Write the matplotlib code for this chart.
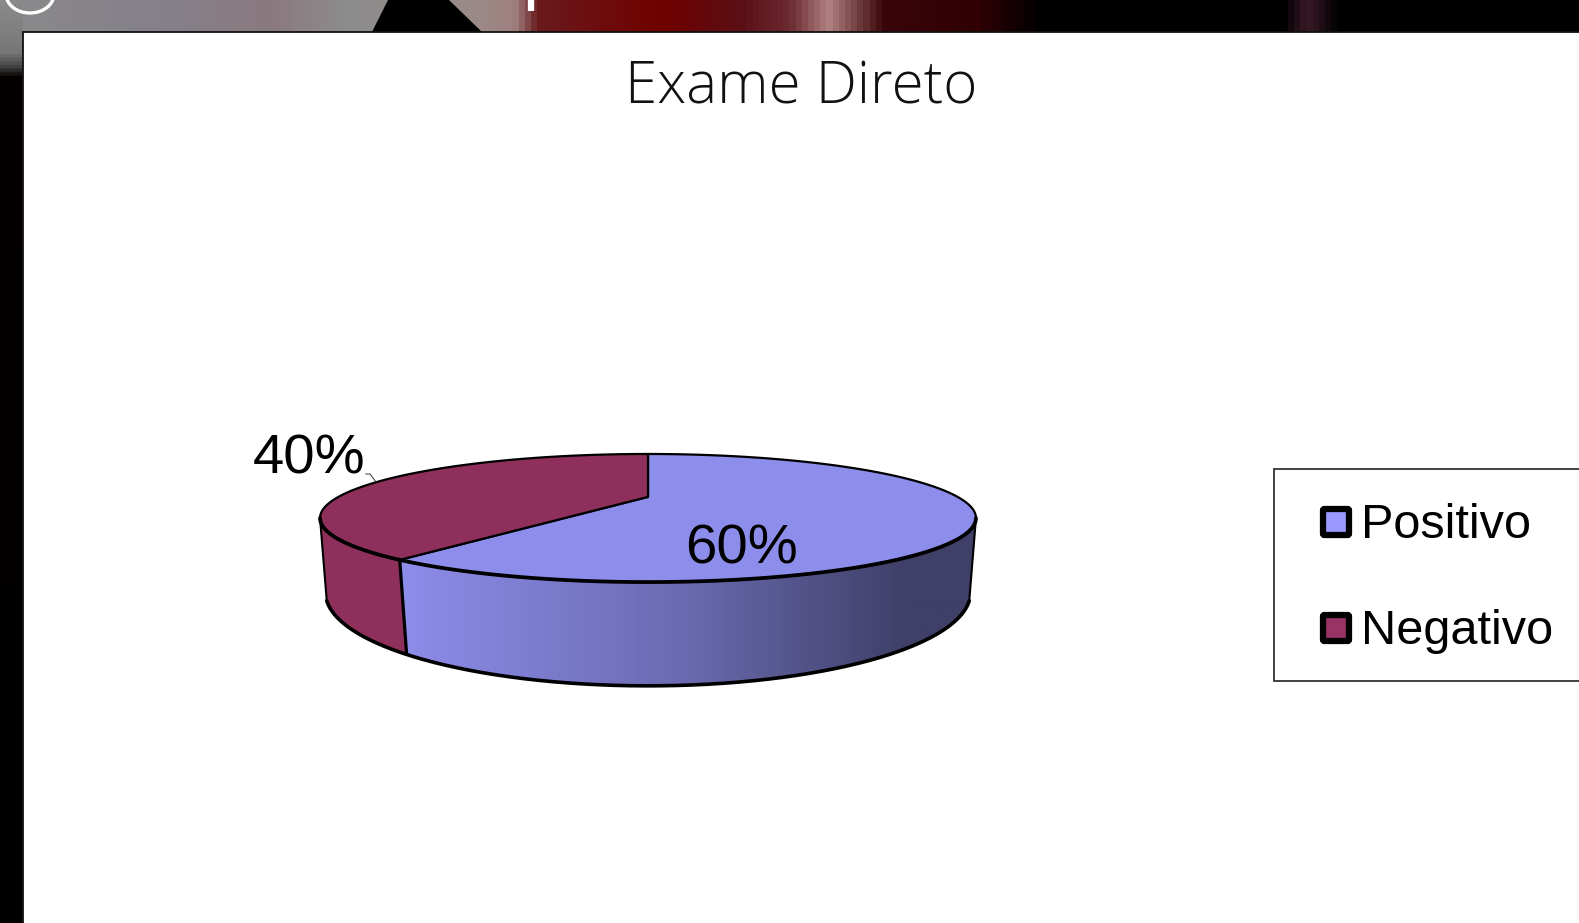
import numpy as np
import matplotlib
matplotlib.use('Agg')
import matplotlib.pyplot as plt
from matplotlib.colors import LinearSegmentedColormap
from matplotlib.patches import Polygon, Rectangle, FancyBboxPatch

categories = ['Positivo', 'Negativo']
values = [60, 40]
pct_labels = ['60%', '40%']
title = 'Exame Direto'

top_colors = ['#8d8deb', '#8f2f5c']
key_colors = ['#9999ff', '#993366']

# perspective of the disc, in picture pixels: A, B, C, half width term
TOP = (106.9, 496.9, 0.33, 309.6)
BOTTOM = (93.7, 563.5, 0.315, 306.0)
CX = 648.0
# where the walls stop, as an angle past the side of the disc
TOP_END = 0.336
BOTTOM_END = 0.40

W, H = 1579, 923
fig = plt.figure(figsize=(W / 100, H / 100), dpi=100)
ax = fig.add_axes([0, 0, 1, 1])
ax.set_xlim(0, W)
ax.set_ylim(H, 0)
ax.axis('off')


def project(angle, disc):
    # angle is measured clockwise from the back of the pie
    A, B, C, k = disc
    u, v = np.sin(angle), np.cos(angle)
    d = 1 + C * v
    return CX + k * u / d, (A * v + B) / d


def path(a0, a1, disc):
    t = np.linspace(a0, a1, 200)
    x, y = project(t, disc)
    return np.column_stack([x, y])


# photo strip behind the slide
strip = LinearSegmentedColormap.from_list('strip', [
    (0.00, '#8a8a8a'), (0.10, '#85808a'), (0.17, '#8a7a80'), (0.22, '#8d8d8d'),
    (0.30, '#9a8a88'), (0.325, '#a08080'), (0.34, '#6a1a1c'),
    (0.42, '#700000'), (0.47, '#5a1015'), (0.50, '#6a2a30'), (0.525, '#b08080'),
    (0.56, '#3a0508'), (0.62, '#300005'), (0.66, '#000000'), (0.815, '#000000'),
    (0.83, '#3a1a28'), (0.85, '#000000'), (1.00, '#000000')])
ax.imshow(np.linspace(0, 1, 512)[None, :], cmap=strip, extent=[0, W, 32, 0], aspect='auto',
          interpolation='bilinear', zorder=0)
ax.add_patch(Polygon([(388, 0), (449, 0), (482, 32), (372, 32)], closed=True, fc='black', ec='none', zorder=0.2))
side = LinearSegmentedColormap.from_list('side', [
    (0.00, '#8a8a8a'), (0.055, '#777777'), (0.07, '#444444'), (0.082, '#050000'), (1.00, '#000000')])
ax.imshow(np.linspace(0, 1, 512)[:, None], cmap=side, extent=[0, 23, H, 0], aspect='auto', zorder=0.5)
ax.set_xlim(0, W)
ax.set_ylim(H, 0)

# pieces of the slide heading cut off by the panel
t = np.linspace(0, np.pi, 60)
ax.plot(30 + 24 * np.cos(t), -6 + 19 * np.sin(t), color='white', lw=2.4, zorder=1)
ax.plot([531, 531], [0, 11], color='white', lw=4.5, solid_capstyle='butt', zorder=1)

ax.add_patch(Rectangle((22.5, 32), W, H, fc='white', ec='#111111', lw=1.3, zorder=1))

fracs = np.array(values) / sum(values)
edges = np.concatenate([[0], np.cumsum(fracs)]) * 2 * np.pi

# walls of the two slices
wall = Polygon(path(np.pi / 2 + TOP_END, edges[1], TOP).tolist()
               + path(np.pi / 2 + BOTTOM_END, edges[1], BOTTOM)[::-1].tolist(),
               closed=True, fc='none', ec='none', zorder=2)
ax.add_patch(wall)
grad = LinearSegmentedColormap.from_list('wall', [
    (0.00, '#8d8deb'), (0.50, '#6a6ab0'), (0.88, '#3f3f68'), (1.00, '#3f3f68')])
im = ax.imshow(np.linspace(0, 1, 512)[None, :], cmap=grad, extent=[400, 975, 700, 500], aspect='auto', zorder=2)
im.set_clip_path(wall)
ax.set_xlim(0, W)
ax.set_ylim(H, 0)

wall2 = np.vstack([path(edges[1], 1.5 * np.pi - TOP_END, TOP),
                   path(edges[1], 1.5 * np.pi - BOTTOM_END, BOTTOM)[::-1]])
ax.add_patch(Polygon(wall2, closed=True, fc=top_colors[1], ec='none', zorder=2))

# outline of the walls
ax.plot(*path(np.pi / 2 + BOTTOM_END, 1.5 * np.pi - BOTTOM_END, BOTTOM).T, color='black', lw=2.6,
        solid_capstyle='round', zorder=3)
for a_top, a_bot, lw in [(np.pi / 2 + TOP_END, np.pi / 2 + BOTTOM_END, 1.5),
                         (1.5 * np.pi - TOP_END, 1.5 * np.pi - BOTTOM_END, 1.5),
                         (edges[1], edges[1], 2.3)]:
    p0, p1 = project(a_top, TOP), project(a_bot, BOTTOM)
    ax.plot([p0[0], p1[0]], [p0[1], p1[1]], color='black', lw=lw, solid_capstyle='round', zorder=3)

# top of the pie
apex = (CX, TOP[1])
for i in range(len(values)):
    pts = np.vstack([[apex], path(edges[i], edges[i + 1], TOP)])
    ax.add_patch(Polygon(pts, closed=True, fc=top_colors[i], ec='black', lw=1.6, joinstyle='round', zorder=4))
# near lip of the top is drawn heavier
ax.plot(*path(np.pi / 2 + TOP_END, 1.5 * np.pi - TOP_END, TOP).T, color='black', lw=2.7,
        solid_capstyle='round', zorder=4.5)

# data labels
ax.text(741, 550, pct_labels[0], family='Liberation Sans', fontsize=40.5, ha='center', va='center', zorder=5)
ax.text(309, 459, pct_labels[1], family='Liberation Sans', fontsize=40.5, ha='center', va='center', zorder=5)
ax.plot([366, 370, 376], [474, 474, 482], color='#333333', lw=0.7, zorder=5)

ax.text(801, 104, title, family='Open Sans', fontweight='light', fontsize=42, ha='center', va='baseline',
        color='#111111', zorder=5)

# legend
ax.add_patch(Rectangle((1274, 468.5), W, 212, fc='white', ec='#222222', lw=1.2, zorder=4))
key_y = [522, 628]
text_y = [525, 631]
for i, name in enumerate(categories):
    ax.add_patch(FancyBboxPatch((1323, key_y[i] - 13), 26, 26, boxstyle='round,pad=0,rounding_size=1.5',
                                fc=key_colors[i], ec='black', lw=4.5, zorder=5))
    ax.text(1361, text_y[i], name, family='Liberation Sans', fontsize=35, ha='left', va='center', zorder=5)

fig.savefig('out.png', dpi=100)
